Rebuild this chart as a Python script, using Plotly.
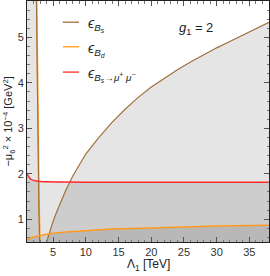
import plotly.graph_objects as go

# ---- data ----
# near-vertical eps_Bs boundary (x at given y)
bs_vert_x = [2.44, 2.52, 2.60, 2.69, 2.80, 2.93]
bs_vert_y = [5.80, 4.60, 3.40, 2.30, 1.40, 0.50]
# sloped eps_Bs boundary
bs_curve_x = [4.0, 4.5, 5.0, 5.5, 6.0, 7.0, 8.0, 9.0, 10.0, 12.0, 14.0, 16.0, 18.0, 20.0,
              22.0, 24.0, 26.0, 28.0, 30.0, 32.0, 34.0, 36.0, 38.0]
bs_curve_y = [0.50, 0.74, 0.96, 1.15, 1.33, 1.66, 1.95, 2.21, 2.44, 2.80, 3.13, 3.42, 3.68, 3.91,
              4.11, 4.29, 4.46, 4.62, 4.77, 4.91, 5.05, 5.19, 5.33]
# eps_Bd
bd_x = [1.0, 1.5, 2.0, 3.0, 4.0, 5.0, 7.0, 10.0, 15.0, 20.0, 25.0, 30.0, 38.0]
bd_y = [0.54, 0.58, 0.61, 0.64, 0.67, 0.69, 0.72, 0.75, 0.79, 0.81, 0.83, 0.85, 0.87]
# eps_Bs->mu mu
bmm_x = [1.0, 1.2, 1.4, 1.6, 2.0, 2.5, 3.0, 4.0, 6.0, 10.0, 20.0, 38.0]
bmm_y = [2.00, 1.95, 1.91, 1.88, 1.855, 1.84, 1.83, 1.825, 1.82, 1.815, 1.815, 1.815]

x_range = [1.0, 38.0]
y_range = [0.5, 5.8]

brown = "#a0703c"
orange = "#ff9a1f"
red = "#ff2a2a"
shade = "rgba(0,0,0,0.10)"

fig = go.Figure()

# shaded regions
fig.add_trace(go.Scatter(
    x=[x_range[0]] + bs_vert_x + [x_range[0]],
    y=[y_range[1]] + bs_vert_y + [y_range[0]],
    fill="toself", fillcolor=shade, line=dict(width=0), mode="lines",
    hoverinfo="skip", showlegend=False))
fig.add_trace(go.Scatter(
    x=bs_curve_x + [x_range[1]],
    y=bs_curve_y + [y_range[0]],
    fill="toself", fillcolor=shade, line=dict(width=0), mode="lines",
    hoverinfo="skip", showlegend=False))
fig.add_trace(go.Scatter(
    x=bmm_x + [x_range[1], x_range[0]],
    y=bmm_y + [y_range[0], y_range[0]],
    fill="toself", fillcolor=shade, line=dict(width=0), mode="lines",
    hoverinfo="skip", showlegend=False))
fig.add_trace(go.Scatter(
    x=bd_x + [x_range[1], x_range[0]],
    y=bd_y + [y_range[0], y_range[0]],
    fill="toself", fillcolor=shade, line=dict(width=0), mode="lines",
    hoverinfo="skip", showlegend=False))

# curves
fig.add_trace(go.Scatter(x=[v + 0.04 for v in bs_vert_x], y=bs_vert_y, mode="lines",
                         line=dict(color=orange, width=1.6), showlegend=False, hoverinfo="skip"))
fig.add_trace(go.Scatter(x=bs_vert_x, y=bs_vert_y, mode="lines",
                         line=dict(color=brown, width=1.1), showlegend=False, hoverinfo="skip"))
fig.add_trace(go.Scatter(x=bs_curve_x, y=bs_curve_y, mode="lines",
                         line=dict(color=brown, width=1.2), showlegend=False))
fig.add_trace(go.Scatter(x=bd_x, y=bd_y, mode="lines", line_shape="spline",
                         line=dict(color=orange, width=1.5), showlegend=False))
fig.add_trace(go.Scatter(x=bmm_x, y=bmm_y, mode="lines", line_shape="spline",
                         line=dict(color=red, width=1.5), showlegend=False))

fam = "Liberation Sans, Arial, sans-serif"
font = dict(family=fam, size=11, color="#333333")

axis_common = dict(
    showgrid=False, zeroline=False, showline=True, linecolor="#222222", linewidth=1,
    mirror="ticks", ticks="inside", ticklen=5, tickcolor="#555555", tickwidth=1,
    tickfont=font, automargin=False,
)
fig.update_xaxes(range=x_range, tickvals=[5, 10, 15, 20, 25, 30, 35],
                 minor=dict(dtick=1, tick0=0, ticks="inside", ticklen=2.5, tickcolor="#777777"),
                 **axis_common)
fig.update_yaxes(range=y_range, tickvals=[1, 2, 3, 4, 5],
                 minor=dict(dtick=0.2, tick0=0, ticks="inside", ticklen=2.5, tickcolor="#777777"),
                 **axis_common)

# axis titles
fig.add_annotation(xref="paper", yref="paper", x=0.5, y=-0.095, xanchor="center", yanchor="middle",
                   text="Λ<sub>1</sub> [TeV]", showarrow=False,
                   font=dict(family=fam, size=12, color="#222222"))
fig.add_annotation(xref="paper", yref="paper", x=-0.078, y=0.5, xanchor="center", yanchor="middle",
                   text="−μ<sub>6</sub><sup>2</sup> × 10<sup>−4</sup> [GeV<sup>2</sup>]", showarrow=False,
                   textangle=-90, font=dict(family=fam, size=11, color="#222222"))

# legend (manual)
leg_items = [
    (brown, "<i>ϵ</i><sub><i>B<sub>s</sub></i></sub>", 0.912),
    (orange, "<i>ϵ</i><sub><i>B<sub>d</sub></i></sub>", 0.810),
    (red, "<i>ϵ</i><sub><i>B<sub>s</sub></i>→<i>μ</i><sup>+</sup> <i>μ</i><sup>−</sup></sub>", 0.705),
]
for col, txt, yy in leg_items:
    fig.add_shape(type="line", xref="paper", yref="paper", x0=0.148, x1=0.215, y0=yy, y1=yy,
                  line=dict(color=col, width=1.3))
    fig.add_annotation(xref="paper", yref="paper", x=0.245, y=yy - 0.01, xanchor="left", yanchor="middle",
                       text=txt, showarrow=False,
                       font=dict(family=fam, size=14, color="#222222"))

fig.add_annotation(xref="paper", yref="paper", x=0.70, y=0.885, xanchor="center", yanchor="middle",
                   text="<i>g</i><sub>1</sub> = 2", showarrow=False,
                   font=dict(family=fam, size=13, color="#222222"))

fig.update_layout(
    width=270, height=276,
    margin=dict(l=27, r=1, t=1, b=34),
    plot_bgcolor="white", paper_bgcolor="white",
    font=font, showlegend=False,
)

fig.write_html("out.html", config={"displayModeBar": False},
               post_script="document.body.style.margin='0';document.body.style.overflow='hidden';")
